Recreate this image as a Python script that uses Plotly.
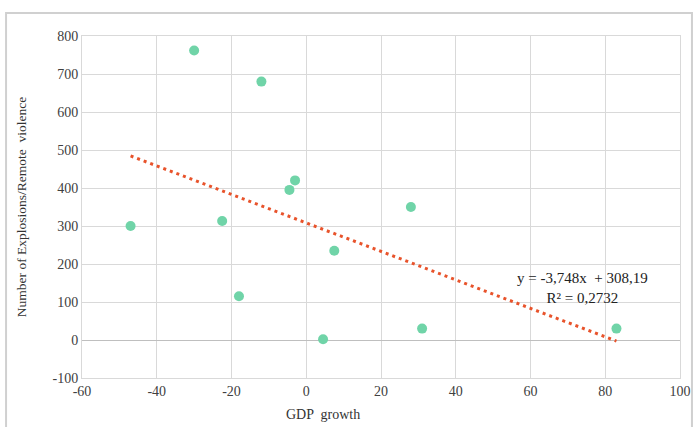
import plotly.graph_objects as go

gdp_growth = [-30, -12, -47, -22.5, -18, -4.5, -3, 7.5, 4.5, 28, 31, 83]
explosions = [762, 680, 300, 313, 115, 395, 420, 235, 2, 350, 30, 30]
slope = -3.748
intercept = 308.19
eq_text = "y = -3,748x  + 308,19<br>R² = 0,2732"
x_ticks = [-60, -40, -20, 0, 20, 40, 60, 80, 100]
y_ticks = [-100, 0, 100, 200, 300, 400, 500, 600, 700, 800]
x_title = "GDP  growth"
y_title = "Number of Explosions/Remote  violence"

x_min, x_max = min(gdp_growth), max(gdp_growth)
trend_x = [x_min, x_max]
trend_y = [slope * v + intercept for v in trend_x]

font_family = "Liberation Serif"
tick_font = dict(family=font_family, size=14, color="#404040")

fig = go.Figure()
fig.add_trace(go.Scatter(
    x=trend_x, y=trend_y, mode="lines",
    line=dict(color="#E8532B", width=3, dash="3px,4px"),
    showlegend=False, hoverinfo="skip"))
fig.add_trace(go.Scatter(
    x=gdp_growth, y=explosions, mode="markers",
    marker=dict(color="#70D4A8", size=10),
    showlegend=False))

fig.update_layout(
    width=694, height=427,
    margin=dict(l=82, r=14, t=36, b=49, autoexpand=False),
    paper_bgcolor="white", plot_bgcolor="white",
    font=dict(family=font_family, size=13, color="#333333"),
    xaxis=dict(range=[-60, 100], tickvals=x_ticks,
               ticktext=[str(v) for v in x_ticks], automargin=False,
               ticklabeloverflow="allow",
               showgrid=True, gridcolor="#D9D9D9",
               gridwidth=1, zeroline=False, showline=True, linecolor="#D9D9D9",
               mirror=True, ticks="", tickfont=tick_font),
    yaxis=dict(range=[-100, 800], tickvals=y_ticks,
               ticktext=[str(v) for v in y_ticks], automargin=False,
               showgrid=True, gridcolor="#D9D9D9",
               gridwidth=1, zeroline=True, zerolinecolor="#BFBFBF", zerolinewidth=1,
               showline=True, linecolor="#D9D9D9", mirror=True, ticks="",
               tickfont=tick_font,
               title=dict(text=y_title,
                          font=dict(family=font_family, size=13.5, color="#333333"),
                          standoff=22)),
    shapes=[dict(type="rect", xref="paper", yref="paper",
                 x0=-0.127, x1=1.02, y0=-0.2, y1=1.067,
                 line=dict(color="#D0D0D0", width=2), layer="below")],
    annotations=[
        dict(x=73.8, y=137, xref="x", yref="y", text=eq_text,
             showarrow=False, align="center", xanchor="center",
             yanchor="middle",
             font=dict(family=font_family, size=15, color="#222222")),
        dict(x=0.403, y=-0.108, xref="paper", yref="paper", text=x_title,
             showarrow=False, xanchor="center", yanchor="middle",
             font=dict(family=font_family, size=14, color="#333333")),
    ],
)

fig.write_html(
    "out.html",
    config={"displayModeBar": False},
    post_script="document.body.style.margin='0';document.body.style.overflow='hidden';",
)
